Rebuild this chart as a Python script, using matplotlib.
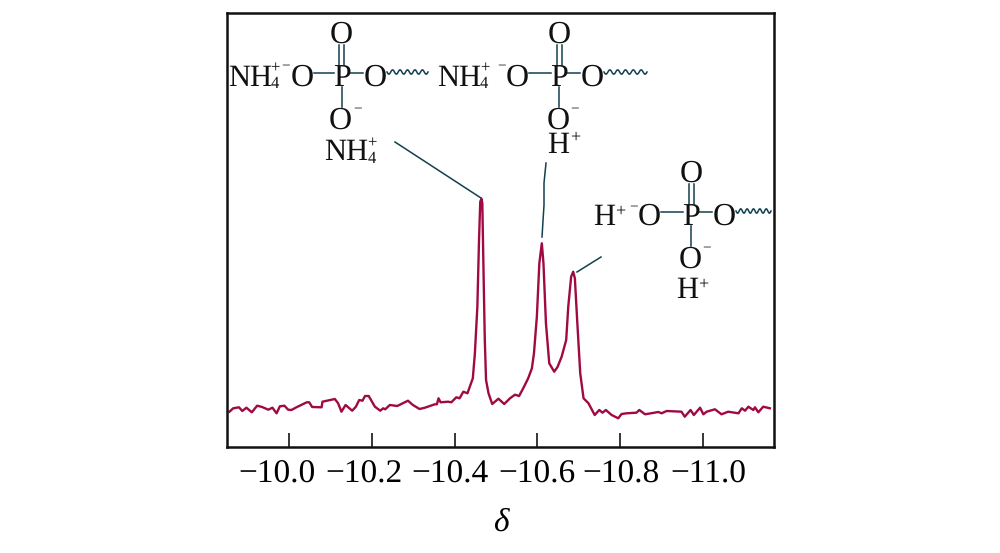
import numpy as np
import matplotlib
matplotlib.use('Agg')
import matplotlib.pyplot as plt
from matplotlib.lines import Line2D
from matplotlib.transforms import ScaledTranslation

plt.rcParams['font.family'] = ['Liberation Serif', 'DejaVu Serif']
plt.rcParams['text.hinting'] = 'no_hinting'

# chemical shift and intensity
delta = [-9.855, -9.864, -9.878, -9.886, -9.896, -9.909, -9.922, -9.934, -9.949, -9.959,
         -9.969, -9.977, -9.988, -9.997, -10.005, -10.017, -10.042, -10.048, -10.055, -10.078,
         -10.080, -10.110, -10.118, -10.126, -10.136, -10.152, -10.161, -10.169, -10.177, -10.183,
         -10.192, -10.207, -10.220, -10.227, -10.232, -10.243, -10.261, -10.287, -10.299, -10.315,
         -10.328, -10.352, -10.357, -10.361, -10.366, -10.384, -10.392, -10.404, -10.412, -10.421,
         -10.431, -10.444, -10.449, -10.455, -10.459, -10.462, -10.465, -10.467, -10.470, -10.473,
         -10.476, -10.482, -10.491, -10.506, -10.520, -10.534, -10.546, -10.556, -10.566, -10.578,
         -10.587, -10.592, -10.599, -10.605, -10.611, -10.615, -10.621, -10.629, -10.641, -10.649,
         -10.659, -10.670, -10.675, -10.682, -10.687, -10.691, -10.697, -10.704, -10.712, -10.724,
         -10.739, -10.750, -10.758, -10.766, -10.780, -10.796, -10.804, -10.816, -10.840, -10.847,
         -10.861, -10.893, -10.901, -10.913, -10.949, -10.957, -10.971, -10.979, -10.994, -11.002,
         -11.010, -11.030, -11.046, -11.062, -11.087, -11.095, -11.103, -11.111, -11.123, -11.127,
         -11.135, -11.147, -11.163]
intensity = [35.3, 38.7, 39.7, 36.0, 39.3, 34.7, 41.3, 40.0, 37.3, 39.3,
             33.7, 40.7, 41.3, 37.3, 37.0, 39.7, 44.7, 44.7, 40.0, 39.7,
             45.3, 48.0, 43.7, 35.3, 42.0, 36.3, 40.3, 47.0, 46.3, 51.0,
             51.0, 40.3, 36.3, 38.7, 37.7, 42.0, 41.0, 46.3, 42.0, 38.0,
             39.3, 42.7, 42.7, 48.7, 44.7, 45.3, 44.7, 49.7, 48.7, 55.3,
             53.7, 68.7, 93.7, 140.3, 207.0, 245.3, 248.3, 243.7, 173.7, 107.0,
             67.0, 53.7, 43.0, 48.3, 43.0, 48.7, 52.3, 51.0, 58.7, 68.7,
             78.7, 93.7, 130.3, 183.7, 203.7, 183.7, 123.7, 83.7, 75.3, 80.0,
             90.3, 107.0, 140.3, 170.3, 175.3, 168.7, 123.7, 73.7, 48.7, 43.7,
             32.0, 37.0, 34.3, 37.0, 32.0, 28.7, 33.0, 33.7, 34.3, 37.0,
             32.7, 35.0, 33.7, 36.0, 35.3, 30.3, 37.0, 32.0, 39.3, 32.7,
             35.3, 37.7, 32.7, 35.3, 33.7, 38.7, 36.3, 40.3, 37.0, 39.7,
             34.7, 40.3, 38.7]
tick_values = [-10.0, -10.2, -10.4, -10.6, -10.8, -11.0]
tick_labels = ['\u221210.0', '\u221210.2', '\u221210.4', '\u221210.6', '\u221210.8', '\u221211.0']

W, H = 1000, 553
fig = plt.figure(figsize=(W / 100, H / 100), dpi=100)
ax = fig.add_axes([227 / W, 1 - 447 / H, 547 / W, 434 / H])

ax.plot(delta, intensity, color='#a00a42', lw=1.7)
ax.set_xlim(-9.849, -11.173)
ax.set_ylim(0, 434)
ax.set_yticks([])
ax.set_xticks(tick_values)
ax.set_xticklabels(tick_labels, fontsize=24)
ax.tick_params(axis='x', direction='in', length=10, width=1.1, pad=9)
ax.set_xlabel('\u03b4', fontsize=24, style='italic', labelpad=13)
for s in ax.spines.values():
    s.set_linewidth(1.8)
    s.set_color('#111111')

# the labels do not sit exactly under their ticks in the original
for lbl, dx in zip(ax.get_xticklabels(), [-12, -8, -5, 0, 1, 6]):
    lbl.set_transform(lbl.get_transform() + ScaledTranslation(dx / 100, 0, fig.dpi_scale_trans))

BOND = '#12404f'


# the structures are placed in picture pixels
def txt(x, y, s, size=23, ha='center'):
    fig.text(x / W, 1 - y / H, s, fontsize=size, ha=ha, va='baseline', color='#111111')


def line(xs, ys, lw=1.1, color=BOND):
    fig.add_artist(Line2D(np.array(xs) / W, 1 - np.array(ys) / H, lw=lw, color=color))


def wavy(x0, x1, y):
    xs = np.linspace(x0, x1, 60)
    line(xs, y + 2.2 * np.sin((xs - x0) / (x1 - x0) * 2 * np.pi * 5.5))


def phosphate(p, y, left_o, right_o, wave_end):
    # y is the baseline of the row with the P in it
    txt(p, y, 'P')
    txt(left_o, y, 'O')
    txt(right_o, y, 'O')
    txt(p, y - 43, 'O')
    txt(p - 1, y + 43, 'O')
    txt(p + 16, y + 27, '\u2212', size=11)
    line([p - 2.5, p - 2.5], [y - 41, y - 21])
    line([p + 2.5, p + 2.5], [y - 41, y - 21])
    line([p, p], [y + 1, y + 21])
    line([left_o + 12, p - 8], [y - 13, y - 13])
    line([p + 7, right_o - 12], [y - 13, y - 13])
    wavy(right_o + 12, wave_end, y - 14)


# left structure
phosphate(341.5, 86, 302, 375, 428)
txt(228, 86, 'NH', size=22, ha='left')
txt(275, 88, '4', size=12)
txt(275, 72, '+', size=12)
txt(286, 70, '\u2212', size=11)
txt(324, 160, 'NH', size=22, ha='left')
txt(372, 163, '4', size=12)
txt(372, 147, '+', size=12)

# middle structure
phosphate(559, 86, 517, 592, 647)
txt(437, 86, 'NH', size=22, ha='left')
txt(484, 88, '4', size=12)
txt(485, 72, '+', size=12)
txt(502, 70, '\u2212', size=11)
txt(547, 153, 'H', size=22, ha='left')
txt(575, 142, '+', size=13)

# right structure
phosphate(691, 225, 649, 724, 771)
txt(593, 225, 'H', size=22, ha='left')
txt(620, 216, '+', size=13)
txt(634, 211, '\u2212', size=11)
txt(676, 298, 'H', size=22, ha='left')
txt(703, 289, '+', size=13)

# leader lines from the peaks to the structures
line([395, 481], [142, 198])
line([546, 544, 544, 542], [163, 183, 205, 237])
line([577, 601], [272, 257])

fig.savefig('out.png', dpi=100)
